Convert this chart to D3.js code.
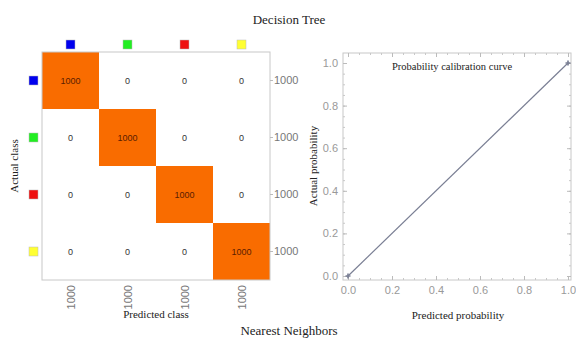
<!DOCTYPE html>
<html>
<head>
<meta charset="utf-8">
<script src="https://cdn.jsdelivr.net/npm/d3@7"></script>
<style>
  body { margin: 0; background: #fff; }
  text { font-family: "Liberation Sans", Arial, sans-serif; }
  .serif { font-family: "Liberation Serif", "Times New Roman", serif; fill: #222; }
</style>
</head>
<body>
<div class="canvas"></div>
<script>
// data
const classColors = ['#0000ee', '#22ee22', '#ee1111', '#ffff33'];
const classes = ['c0', 'c1', 'c2', 'c3'];
const counts = [
  [1000, 0, 0, 0],
  [0, 1000, 0, 0],
  [0, 0, 1000, 0],
  [0, 0, 0, 1000]
];
const rowTotals = [1000, 1000, 1000, 1000];
const colTotals = [1000, 1000, 1000, 1000];
const predProb = [0, 1];
const actualProb = [0, 1];
const probTicks = [0, 0.2, 0.4, 0.6, 0.8, 1.0];

const svg = d3.select('.canvas')
    .append('svg')
    .attr('width', 576)
    .attr('height', 342);

// titles
svg.append('text').attr('class', 'serif')
    .attr('x', 289).attr('y', 24)
    .attr('text-anchor', 'middle').attr('font-size', 13)
    .text('Decision Tree');
svg.append('text').attr('class', 'serif')
    .attr('x', 289).attr('y', 335)
    .attr('text-anchor', 'middle').attr('font-size', 13)
    .text('Nearest Neighbors');

// confusion matrix
const m = { left: 42, top: 52, size: 228 };
const x = d3.scaleBand().domain(classes).range([m.left, m.left + m.size]);
const y = d3.scaleBand().domain(classes).range([m.top, m.top + m.size]);
const maxCount = d3.max(counts.flat());

const cells = [];
counts.forEach((row, i) => row.forEach((v, j) => cells.push({ r: classes[i], c: classes[j], v })));

const cm = svg.append('g');

cm.selectAll('rect.cell')
    .data(cells.filter(d => d.v > 0))
    .enter()
    .append('rect')
    .attr('x', d => x(d.c))
    .attr('y', d => y(d.r))
    .attr('width', x.bandwidth())
    .attr('height', y.bandwidth())
    .attr('fill', d => d3.interpolateRgb('#ffffff', '#f96c00')(d.v / maxCount));

cm.selectAll('text.val')
    .data(cells)
    .enter()
    .append('text')
    .attr('x', d => x(d.c) + x.bandwidth() / 2)
    .attr('y', d => y(d.r) + y.bandwidth() / 2 + 3)
    .attr('text-anchor', 'middle')
    .attr('font-size', 9)
    .attr('fill', d => d.v > 0 ? '#5a2000' : '#333')
    .text(d => d.v);

cm.append('rect')
    .attr('x', m.left).attr('y', m.top)
    .attr('width', m.size).attr('height', m.size)
    .attr('fill', 'none').attr('stroke', '#c8c8c8');

// class markers
const mk = 9;
cm.selectAll('rect.colmk')
    .data(classes)
    .enter()
    .append('rect')
    .attr('x', d => x(d) + x.bandwidth() / 2 - mk / 2)
    .attr('y', 40)
    .attr('width', mk).attr('height', mk)
    .attr('fill', (d, i) => classColors[i])
    .attr('stroke', '#bbb').attr('stroke-width', 0.5);

cm.selectAll('rect.rowmk')
    .data(classes)
    .enter()
    .append('rect')
    .attr('x', 29)
    .attr('y', d => y(d) + y.bandwidth() / 2 - mk / 2)
    .attr('width', mk).attr('height', mk)
    .attr('fill', (d, i) => classColors[i])
    .attr('stroke', '#bbb').attr('stroke-width', 0.5);

// right side totals
const rightAxis = d3.axisRight(y).tickSize(3).tickFormat((d, i) => rowTotals[i]);
cm.append('g')
    .attr('transform', `translate(${m.left + m.size},0)`)
    .call(rightAxis)
    .call(g => g.select('.domain').remove())
    .call(g => g.selectAll('line').attr('stroke', '#bbb'))
    .call(g => g.selectAll('text').attr('fill', '#777').attr('font-size', 11).attr('x', 4));

// bottom totals (rotated)
cm.selectAll('text.coltot')
    .data(classes)
    .enter()
    .append('text')
    .attr('transform', d => `translate(${x(d) + x.bandwidth() / 2 + 4},${m.top + m.size + 5}) rotate(-90)`)
    .attr('text-anchor', 'end')
    .attr('font-size', 11)
    .attr('fill', '#777')
    .text((d, i) => colTotals[i]);

svg.append('text').attr('class', 'serif')
    .attr('x', m.left + m.size / 2).attr('y', 318)
    .attr('text-anchor', 'middle').attr('font-size', 11)
    .text('Predicted class');
svg.append('text').attr('class', 'serif')
    .attr('transform', `translate(18,${m.top + m.size / 2}) rotate(-90)`)
    .attr('text-anchor', 'middle').attr('font-size', 11)
    .text('Actual class');

// calibration curve
const p = { left: 343, right: 571, top: 53, bottom: 280 };
const px = d3.scaleLinear().domain([0, 1]).range([348, 568]);
const py = d3.scaleLinear().domain([0, 1]).range([276, 63]);
const cal = svg.append('g');

cal.append('rect')
    .attr('x', p.left).attr('y', p.top)
    .attr('width', p.right - p.left).attr('height', p.bottom - p.top)
    .attr('fill', 'none').attr('stroke', '#c8c8c8');

const minor = d3.range(0, 1.0001, 0.05);
const sides = [
  { axis: d3.axisBottom(px), t: `translate(0,${p.bottom})` },
  { axis: d3.axisTop(px), t: `translate(0,${p.top})` },
  { axis: d3.axisLeft(py), t: `translate(${p.left},0)` },
  { axis: d3.axisRight(py), t: `translate(${p.right},0)` }
];
sides.forEach(s => {
  cal.append('g').attr('transform', s.t)
      .call(s.axis.tickValues(minor).tickSize(-2).tickFormat(''))
      .call(g => g.select('.domain').remove())
      .call(g => g.selectAll('line').attr('stroke', '#c8c8c8'));
  cal.append('g').attr('transform', s.t)
      .call(s.axis.tickValues(probTicks).tickSize(-4).tickFormat(''))
      .call(g => g.select('.domain').remove())
      .call(g => g.selectAll('line').attr('stroke', '#bbb'));
});

cal.append('g').attr('transform', `translate(0,${p.bottom})`)
    .call(d3.axisBottom(px).tickValues(probTicks).tickSize(0).tickPadding(6).tickFormat(d3.format('.1f')))
    .call(g => g.select('.domain').remove())
    .call(g => g.selectAll('text').attr('fill', '#999').attr('font-size', 11));
cal.append('g').attr('transform', `translate(${p.left},0)`)
    .call(d3.axisLeft(py).tickValues(probTicks).tickSize(0).tickPadding(5).tickFormat(d3.format('.1f')))
    .call(g => g.select('.domain').remove())
    .call(g => g.selectAll('text').attr('fill', '#999').attr('font-size', 11));

const line = d3.line()
    .x((d, i) => px(predProb[i]))
    .y((d, i) => py(actualProb[i]));

cal.append('path')
    .datum(predProb)
    .attr('fill', 'none')
    .attr('stroke', '#7a7f94')
    .attr('stroke-width', 1.2)
    .attr('d', line);

cal.selectAll('path.pt')
    .data(predProb)
    .enter()
    .append('path')
    .attr('transform', (d, i) => `translate(${px(d)},${py(actualProb[i])})`)
    .attr('d', d3.symbol(d3.symbolCross, 14))
    .attr('fill', '#7a7f94');

cal.append('text').attr('class', 'serif')
    .attr('x', 452).attr('y', 70)
    .attr('text-anchor', 'middle').attr('font-size', 10.5)
    .text('Probability calibration curve');

svg.append('text').attr('class', 'serif')
    .attr('x', 458).attr('y', 319)
    .attr('text-anchor', 'middle').attr('font-size', 11)
    .text('Predicted probability');
svg.append('text').attr('class', 'serif')
    .attr('transform', `translate(317,166) rotate(-90)`)
    .attr('text-anchor', 'middle').attr('font-size', 11)
    .text('Actual probability');
</script>
</body>
</html>
